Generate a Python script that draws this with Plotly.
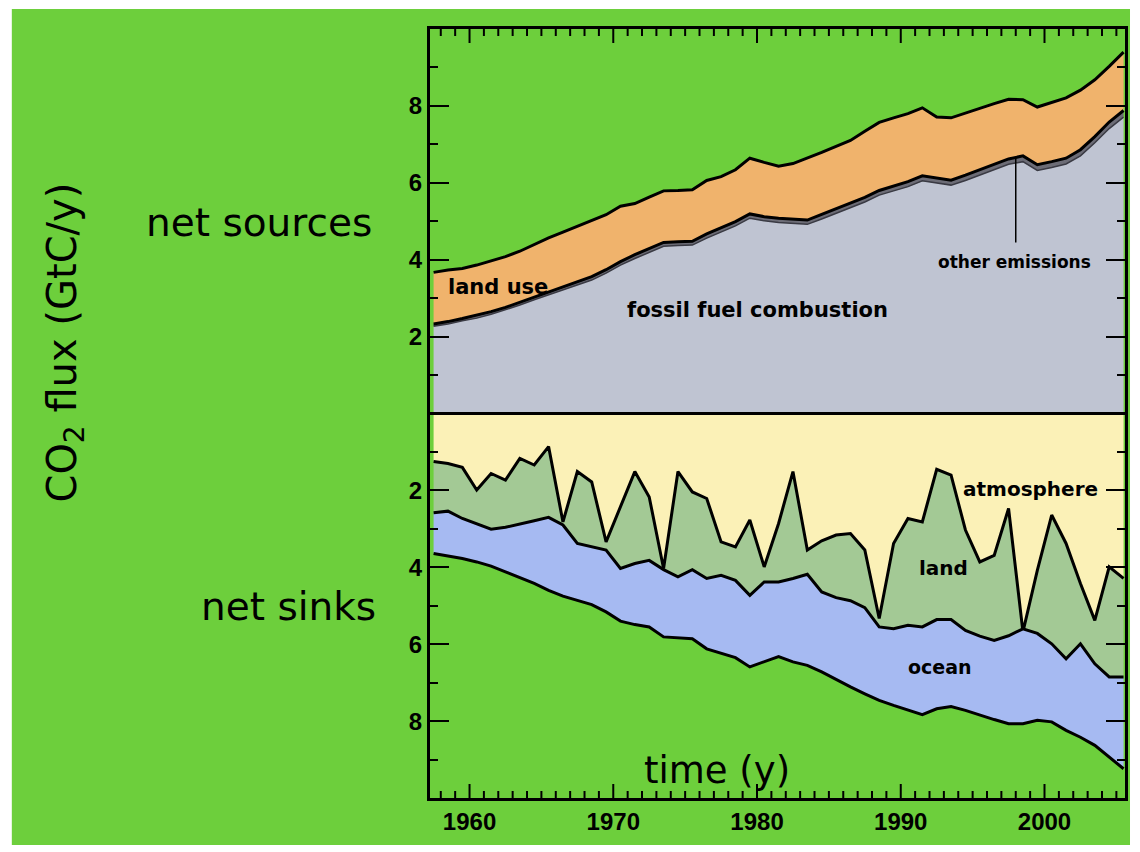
import plotly.graph_objects as go

# ---------------- data ----------------
years = list(range(1957, 2006))

# net sources (GtC/y), cumulative boundaries
fossil_fuel = [2.27, 2.33, 2.41, 2.48, 2.58, 2.69, 2.82, 2.96, 3.09, 3.22,
               3.35, 3.47, 3.65, 3.86, 4.03, 4.20, 4.35, 4.37, 4.38, 4.56,
               4.71, 4.88, 5.08, 5.01, 4.97, 4.94, 4.92, 5.06, 5.21, 5.36,
               5.50, 5.68, 5.79, 5.90, 6.05, 5.99, 5.94, 6.06, 6.20, 6.34,
               6.48, 6.55, 6.32, 6.40, 6.49, 6.70, 7.04, 7.41, 7.71]
fossil_plus_other = [2.33, 2.39, 2.47, 2.55, 2.65, 2.76, 2.89, 3.04, 3.17, 3.30,
                     3.43, 3.56, 3.74, 3.95, 4.13, 4.30, 4.45, 4.47, 4.48, 4.67,
                     4.82, 4.99, 5.19, 5.12, 5.08, 5.05, 5.03, 5.18, 5.33, 5.48,
                     5.62, 5.80, 5.92, 6.03, 6.18, 6.12, 6.07, 6.20, 6.34, 6.48,
                     6.62, 6.70, 6.47, 6.55, 6.64, 6.86, 7.20, 7.58, 7.88]
total_sources = [3.67, 3.73, 3.77, 3.86, 3.97, 4.08, 4.22, 4.40, 4.57, 4.72,
                 4.87, 5.00, 5.17, 5.39, 5.46, 5.63, 5.79, 5.80, 5.82, 6.06,
                 6.16, 6.34, 6.64, 6.53, 6.43, 6.50, 6.64, 6.79, 6.95, 7.10,
                 7.34, 7.57, 7.69, 7.80, 7.95, 7.71, 7.69, 7.82, 7.95, 8.06,
                 8.17, 8.16, 7.97, 8.08, 8.21, 8.41, 8.68, 9.03, 9.40]

# net sinks (GtC/y, magnitudes), cumulative boundaries
atmosphere = [1.25, 1.30, 1.40, 1.99, 1.56, 1.73, 1.17, 1.34, 0.86, 2.82,
              1.51, 1.78, 3.34, 2.43, 1.51, 2.17, 4.03, 1.51, 2.04, 2.21,
              3.34, 3.47, 2.77, 3.99, 2.86, 1.51, 3.55, 3.31, 3.16, 3.12,
              3.55, 5.33, 3.38, 2.73, 2.82, 1.45, 1.60, 3.03, 3.86, 3.69,
              2.47, 5.68, 4.08, 2.64, 3.38, 4.42, 5.38, 3.99, 4.29]
atm_plus_land = [2.58, 2.54, 2.73, 2.88, 3.01, 2.96, 2.88, 2.79, 2.70, 2.90,
                 3.38, 3.47, 3.55, 4.03, 3.90, 3.82, 4.06, 4.25, 4.06, 4.29,
                 4.21, 4.34, 4.73, 4.38, 4.38, 4.29, 4.18, 4.64, 4.79, 4.87,
                 5.05, 5.55, 5.60, 5.51, 5.55, 5.36, 5.36, 5.64, 5.79, 5.90,
                 5.78, 5.60, 5.72, 5.99, 6.38, 5.99, 6.51, 6.85, 6.85]
total_sinks = [3.64, 3.70, 3.77, 3.86, 3.97, 4.12, 4.27, 4.42, 4.60, 4.75,
               4.86, 4.97, 5.16, 5.40, 5.49, 5.55, 5.81, 5.83, 5.86, 6.12,
               6.23, 6.35, 6.59, 6.46, 6.32, 6.46, 6.55, 6.72, 6.92, 7.11,
               7.29, 7.46, 7.59, 7.70, 7.83, 7.68, 7.62, 7.72, 7.85, 7.96,
               8.07, 8.07, 7.98, 8.02, 8.24, 8.42, 8.63, 8.94, 9.24]

x_tickvals = [1960, 1970, 1980, 1990, 2000]
x_ticktext = ["1960", "1970", "1980", "1990", "2000"]
x_minor_ticks = [yr for yr in range(1958, 2006) if yr not in x_tickvals]
y_tickvals = [-8, -6, -4, -2, 2, 4, 6, 8]
y_ticktext = ["8", "6", "4", "2", "2", "4", "6", "8"]
y_minor_ticks = [-9, -7, -5, -3, -1, 1, 3, 5, 7, 9]

X_RANGE = [1957.25, 2005.6]
Y_RANGE = [-10, 10]

# ---------------- styling ----------------
W, H = 1140, 852
MARGIN = dict(l=430, r=12, t=29, b=54)
PLOT_H = H - MARGIN["t"] - MARGIN["b"]

GREEN = "#6dcf3c"
GRAY = "#bfc4d2"
DARK = "#6c6c76"
ORANGE = "#f0b36c"
YELLOW = "#fbf1b7"
SAGE = "#a3c995"
BLUE = "#a6baf2"
LINE = dict(color="black", width=3)

x = [y + 0.5 for y in years]  # annual values plotted at mid-year

fig = go.Figure()
fig.add_trace(go.Scatter(x=x, y=fossil_fuel, mode="lines", fill="tozeroy",
                         fillcolor=GRAY, line=dict(color="#3a3a44", width=1.5)))
fig.add_trace(go.Scatter(x=x, y=fossil_plus_other, mode="lines", fill="tonexty",
                         fillcolor=DARK, line=LINE))
fig.add_trace(go.Scatter(x=x, y=total_sources, mode="lines", fill="tonexty",
                         fillcolor=ORANGE, line=LINE))

fig.add_trace(go.Scatter(x=x, y=[-v for v in atmosphere], mode="lines", fill="tozeroy",
                         fillcolor=YELLOW, line=LINE))
fig.add_trace(go.Scatter(x=x, y=[-v for v in atm_plus_land], mode="lines", fill="tonexty",
                         fillcolor=SAGE, line=LINE))
fig.add_trace(go.Scatter(x=x, y=[-v for v in total_sinks], mode="lines", fill="tonexty",
                         fillcolor=BLUE, line=LINE))
# empty trace so the overlay (minor-tick) y axis gets drawn
fig.add_trace(go.Scatter(x=[], y=[], yaxis="y2", mode="lines", hoverinfo="skip"))

tickfont = dict(family="Liberation Sans", size=24, color="black", weight="bold")
common = dict(showgrid=False, zeroline=False, showline=True, linecolor="black",
              linewidth=3, mirror=True, tickcolor="black", tickwidth=2)

fig.update_layout(
    xaxis=dict(range=X_RANGE, tickmode="array", tickvals=x_tickvals,
               ticktext=x_ticktext, ticks="", tickfont=tickfont, **common),
    yaxis=dict(range=Y_RANGE, tickmode="array", tickvals=y_tickvals,
               ticktext=y_ticktext, ticks="inside", ticklen=19,
               tickfont=tickfont, **{**common, "mirror": "ticks"}),
    yaxis2=dict(range=Y_RANGE, overlaying="y", anchor="x", side="left",
                tickmode="array", tickvals=y_minor_ticks, ticks="inside",
                ticklen=8, showticklabels=False, **{**common, "mirror": "ticks"}),
)

shapes = [
    # green poster background
    dict(type="rect", xref="paper", yref="paper", x0=-0.6017, x1=1.0072,
         y0=-0.0611, y1=1.026, fillcolor=GREEN, line=dict(width=0), layer="below"),
    # zero line between sources and sinks
    dict(type="line", xref="paper", yref="y", x0=0, x1=1, y0=0, y1=0,
         line=dict(color="black", width=3), layer="above"),
    # pointer for "other emissions"
    dict(type="line", xref="x", yref="y", x0=1998, x1=1998, y0=4.45,
         y1=fossil_plus_other[years.index(1998)] - 0.02,
         line=dict(color="black", width=1.5), layer="above"),
]

# inward time-axis ticks on bottom and top edges (major = decades, minor = years)
for vals, length in ((x_tickvals, 14), (x_minor_ticks, 7)):
    frac = length / PLOT_H
    for v in vals:
        for y0, y1 in ((0, frac), (1, 1 - frac)):
            shapes.append(dict(type="line", xref="x", yref="paper", x0=v, x1=v,
                               y0=y0, y1=y1, line=dict(color="black", width=2),
                               layer="above"))

lab = dict(family="DejaVu Sans", color="black", weight="bold")
hand = dict(family="DejaVu Sans", color="black")
annotations = [
    dict(text="land use", x=1961.95, y=3.29, font=dict(size=21, **lab)),
    dict(text="fossil fuel combustion", x=1980.0, y=2.70, font=dict(size=21, **lab)),
    dict(text="other emissions", x=1997.9, y=3.94, font=dict(size=17, **lab)),
    dict(text="atmosphere", x=1999.0, y=-1.96, font=dict(size=20, **lab)),
    dict(text="land", x=1993.0, y=-4.02, font=dict(size=20, **lab)),
    dict(text="ocean", x=1992.7, y=-6.58, font=dict(size=19, **lab)),
]
for a in annotations:
    a.update(xref="x", yref="y")

annotations += [
    dict(text="net sources", xref="paper", yref="paper", x=-0.2464, y=0.749,
         font=dict(size=39, **hand)),
    dict(text="net sinks", xref="paper", yref="paper", x=-0.2037, y=0.2484,
         font=dict(size=39, **hand)),
    dict(text="CO<sub>2</sub> flux (GtC/y)", xref="paper", yref="paper", x=-0.5258,
         y=0.5917, textangle=-90, font=dict(size=40, **hand)),
    dict(text="time (y)", xref="paper", yref="paper", x=0.413, y=0.036,
         font=dict(size=37, **hand)),
]
for a in annotations:
    a.update(showarrow=False, xanchor="center", yanchor="middle")

fig.update_layout(width=W, height=H, margin=MARGIN,
                  paper_bgcolor="white", plot_bgcolor="rgba(0,0,0,0)",
                  showlegend=False, shapes=shapes, annotations=annotations)

fig.write_html("out.html", config={"displayModeBar": False},
               post_script="document.body.style.margin='0';document.body.style.overflow='hidden';")
